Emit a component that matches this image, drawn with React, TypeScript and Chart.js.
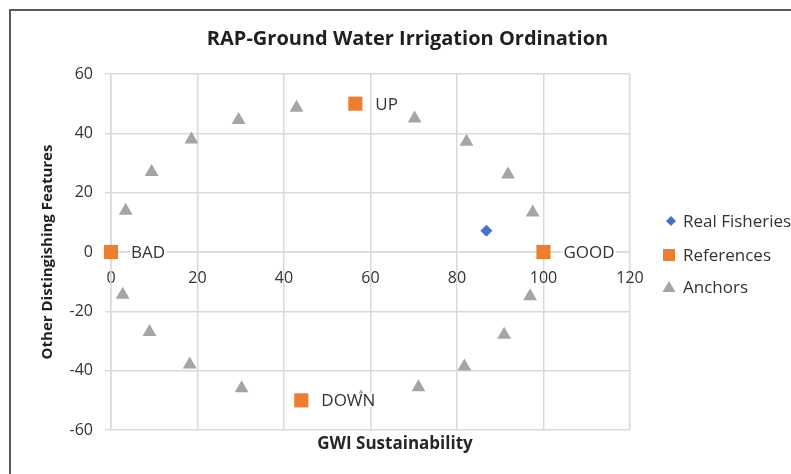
import React, { useEffect, useRef } from 'react';
import { Chart, registerables } from 'chart.js';

Chart.register(...registerables);

const chartTitle = 'RAP-Ground Water Irrigation Ordination';
const xAxisTitle = 'GWI Sustainability';
const yAxisTitle = 'Other Distingishing Features';
const seriesNames = ['Real Fisheries', 'References', 'Anchors'];
const seriesColors = ['#4472C4', '#ED7D31', '#A5A5A5'];

const fisheryX = [86.8];
const fisheryY = [7.2];

const referenceX = [0, 100, 56.5, 44.0];
const referenceY = [0, 0, 50, -50];
const referenceLabels = ['BAD', 'GOOD', 'UP', 'DOWN'];

const anchorX = [3.4, 9.4, 18.6, 29.5, 42.9, 70.2, 82.2, 91.8, 97.5, 96.9, 90.9, 81.7, 71.1, 57.8, 30.2, 18.2, 8.9, 2.7];
const anchorY = [13.9, 27.0, 37.9, 44.5, 48.6, 45.0, 37.2, 26.1, 13.3, -14.9, -27.9, -38.6, -45.6, -49.0, -45.9, -37.9, -27.0, -14.4];

const xMin = 0;
const xMax = 120;
const xStep = 20;
const yMin = -60;
const yMax = 60;
const yStep = 20;

const FONT = "'Open Sans', 'DejaVu Sans', sans-serif";
const TEXT = '#333333';
const GRID = '#d9d9d9';

const toPoints = (xs: number[], ys: number[]) => xs.map((x, i) => ({ x, y: ys[i] }));

function drawMarker(ctx: CanvasRenderingContext2D, kind: number, x: number, y: number) {
  ctx.save();
  ctx.fillStyle = seriesColors[kind];
  ctx.beginPath();
  if (kind === 0) {
    const r = 5;
    ctx.moveTo(x, y - r);
    ctx.lineTo(x + r, y);
    ctx.lineTo(x, y + r);
    ctx.lineTo(x - r, y);
    ctx.closePath();
  } else if (kind === 1) {
    ctx.rect(x - 6, y - 6, 12, 12);
  } else {
    ctx.moveTo(x, y - 6);
    ctx.lineTo(x + 6.5, y + 5);
    ctx.lineTo(x - 6.5, y + 5);
    ctx.closePath();
  }
  ctx.fill();
  ctx.restore();
}

const overlayPlugin = {
  id: 'overlayPlugin',
  afterDatasetsDraw(chart: any) {
    const ctx: CanvasRenderingContext2D = chart.ctx;
    const meta = chart.getDatasetMeta(1);
    ctx.save();
    ctx.font = `17px ${FONT}`;
    ctx.textBaseline = 'middle';
    ctx.textAlign = 'left';
    meta.data.forEach((el: any, i: number) => {
      const label = referenceLabels[i];
      const tx = el.x + 20;
      const ty = el.y;
      const w = ctx.measureText(label).width;
      ctx.fillStyle = '#ffffff';
      ctx.fillRect(tx - 1, ty - 7, w + 2, 14);
      ctx.fillStyle = TEXT;
      ctx.fillText(label, tx, ty + 1);
    });
    ctx.restore();
  },
  afterDraw(chart: any) {
    const ctx: CanvasRenderingContext2D = chart.ctx;
    const area = chart.chartArea;
    // x-axis title
    ctx.save();
    ctx.font = `bold 17px ${FONT}`;
    ctx.fillStyle = '#262626';
    ctx.textAlign = 'center';
    ctx.textBaseline = 'middle';
    ctx.fillText(xAxisTitle, area.left + 284, area.bottom + 14);
    ctx.restore();
    // legend
    const cy = (area.top + area.bottom) / 2;
    const offsets = [-31, 3, 35];
    const markerX = [area.right + 41, area.right + 39, area.right + 39];
    ctx.save();
    ctx.font = `17px ${FONT}`;
    ctx.fillStyle = TEXT;
    ctx.textAlign = 'left';
    ctx.textBaseline = 'middle';
    seriesNames.forEach((name, i) => {
      const y = cy + offsets[i];
      drawMarker(ctx, i, markerX[i], y);
      ctx.fillStyle = TEXT;
      ctx.fillText(name, area.right + 53, y + 1);
    });
    ctx.restore();
  },
};

export default function App() {
  const canvasRef = useRef<HTMLCanvasElement | null>(null);

  useEffect(() => {
    if (!canvasRef.current) return;
    Chart.defaults.font.family = FONT;
    const chart = new Chart(canvasRef.current, {
      type: 'scatter',
      data: {
        datasets: [
          {
            label: seriesNames[0],
            data: toPoints(fisheryX, fisheryY),
            pointStyle: 'rectRot',
            pointRadius: 5.5,
            backgroundColor: seriesColors[0],
            borderColor: seriesColors[0],
            borderWidth: 1,
            clip: false,
          },
          {
            label: seriesNames[1],
            data: toPoints(referenceX, referenceY),
            pointStyle: 'rect',
            pointRadius: 10,
            backgroundColor: seriesColors[1],
            borderColor: seriesColors[1],
            borderWidth: 0,
            clip: false,
          },
          {
            label: seriesNames[2],
            data: toPoints(anchorX, anchorY),
            pointStyle: 'triangle',
            pointRadius: 8,
            backgroundColor: seriesColors[2],
            borderColor: seriesColors[2],
            borderWidth: 0,
            clip: false,
          },
        ],
      },
      options: {
        responsive: false,
        animation: false,
        devicePixelRatio: 1,
        layout: { padding: { left: 24, top: 10, right: 0, bottom: 44 } },
        plugins: {
          legend: { display: false },
          tooltip: { enabled: false },
          title: {
            display: true,
            text: chartTitle,
            color: '#1f1f1f',
            font: { family: FONT, size: 20, weight: 'bold' },
            padding: { top: 17, bottom: 23 },
          },
        },
        scales: {
          x: {
            type: 'linear',
            position: { y: 0 } as any,
            min: xMin,
            max: xMax,
            ticks: { stepSize: xStep, color: TEXT, font: { family: FONT, size: 16 }, padding: 17, maxRotation: 0 },
            grid: { color: GRID, lineWidth: 1.5, drawTicks: false },
            border: { display: true, color: GRID, width: 1.5 },
          },
          y: {
            type: 'linear',
            position: 'left',
            min: yMin,
            max: yMax,
            ticks: { stepSize: yStep, color: TEXT, font: { family: FONT, size: 16 }, padding: 12 },
            grid: { color: GRID, lineWidth: 1.5, drawTicks: true, tickLength: 6 },
            border: { display: true, color: GRID, width: 1.5 },
            title: {
              display: true,
              text: yAxisTitle,
              color: '#1f1f1f',
              font: { family: FONT, size: 15, weight: 'bold' },
              padding: { top: 15, bottom: 0 },
            },
            afterFit: (s: any) => {
              s.width = 87;
            },
          },
          yR: {
            type: 'linear',
            position: 'right',
            display: true,
            ticks: { display: false },
            grid: { display: false, drawTicks: false },
            border: { display: false },
            afterFit: (s: any) => {
              s.width = 161;
            },
          },
        },
      } as any,
      plugins: [overlayPlugin],
    });
    return () => chart.destroy();
  }, []);

  return (
    <div style={{ position: 'fixed', left: 0, top: 0, width: 791, height: 474, overflow: 'hidden', background: '#fff' }}>
      <canvas ref={canvasRef} width={791} height={474} style={{ position: 'absolute', left: 0, top: 0, width: 791, height: 474 }} />
      <div
        style={{
          position: 'absolute',
          left: 9,
          top: 9,
          width: 900,
          height: 600,
          borderTop: '2px solid #5a5a5a',
          borderLeft: '2px solid #5a5a5a',
          pointerEvents: 'none',
        }}
      />
    </div>
  );
}
